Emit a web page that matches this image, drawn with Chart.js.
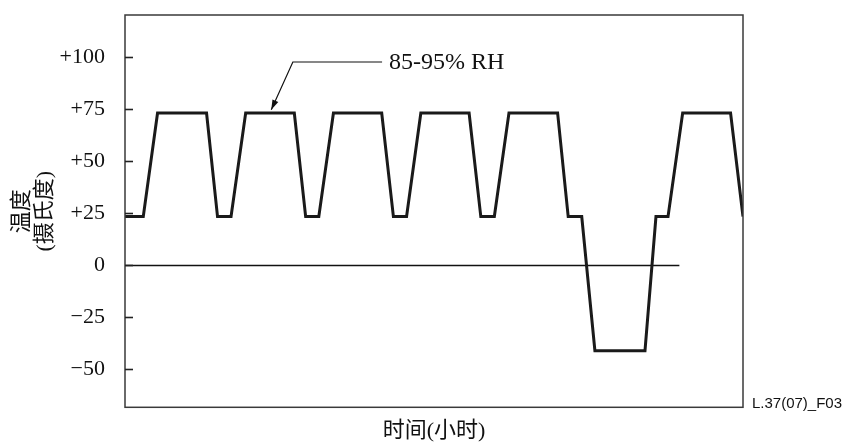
<!DOCTYPE html>
<html>
<head>
<meta charset="utf-8">
<script src="https://cdn.jsdelivr.net/npm/chart.js@4/dist/chart.umd.min.js"></script>
<style>
  html, body { margin: 0; padding: 0; background: #ffffff; }
  canvas { display: block; }
</style>
</head>
<body>
<canvas id="c" width="849" height="445"></canvas>
<script>
// ---- data ----
const hours = [0, 5, 8.9, 22.3, 25.3, 29, 33, 46.3, 49.4, 53, 57, 70.2, 73.4, 77, 80.9, 94.1,
               97.3, 101, 105, 118.3, 121.2, 124.9, 128.5, 142.2, 145.2, 148.5, 152.5, 165.6, 169];
const temps = [23.5, 23.5, 73.3, 73.3, 23.5, 23.5, 73.3, 73.3, 23.5, 23.5, 73.3, 73.3, 23.5, 23.5, 73.3, 73.3,
               23.5, 23.5, 73.3, 73.3, 23.5, 23.5, -41, -41, 23.5, 23.5, 73.3, 73.3, 23.5];
const zeroLineHours = [0, 151.6];
const zeroLineTemps = [0, 0];
const yTickValues = [-50, -25, 0, 25, 50, 75, 100];
const yTickLabels = ['\u221250', '\u221225', '0', '+25', '+50', '+75', '+100'];
const yTitle = ['温度', '(摄氏度)'];
const xTitle = '时间(小时)';
const noteText = '85-95% RH';
const noteArrow = { textX: 72.2, lineEndX: 70.3, elbowX: 45.9, elbowY: 97.8, tipX: 40, tipY: 74.8 };
const figId = 'L.37(07)_F03';

const SERIF = "'Liberation Serif', 'Noto Sans CJK SC', serif";

const decorPlugin = {
  id: 'decor',
  afterDraw(chart) {
    const ctx = chart.ctx;
    const a = chart.chartArea;
    const xs = chart.scales.x, ys = chart.scales.y;
    ctx.save();
    // frame
    ctx.strokeStyle = '#3a3a3a';
    ctx.lineWidth = 1.5;
    ctx.strokeRect(a.left, a.top, a.right - a.left, a.bottom - a.top);
    // inward tick marks
    ctx.strokeStyle = '#222';
    ctx.lineWidth = 1.6;
    yTickValues.forEach(v => {
      const y = Math.round(ys.getPixelForValue(v)) + 0.5;
      ctx.beginPath();
      ctx.moveTo(a.left, y);
      ctx.lineTo(a.left + 8, y);
      ctx.stroke();
    });
    // annotation leader with arrow
    const ex = xs.getPixelForValue(noteArrow.elbowX), ey = ys.getPixelForValue(noteArrow.elbowY);
    const lx = xs.getPixelForValue(noteArrow.lineEndX);
    const tx = xs.getPixelForValue(noteArrow.tipX), ty = ys.getPixelForValue(noteArrow.tipY);
    ctx.strokeStyle = '#111';
    ctx.lineWidth = 1.2;
    ctx.beginPath();
    ctx.moveTo(lx, ey);
    ctx.lineTo(ex, ey);
    ctx.lineTo(tx, ty);
    ctx.stroke();
    const ang = Math.atan2(ty - ey, tx - ex);
    const L = 10, W = 3.2;
    ctx.fillStyle = '#111';
    ctx.beginPath();
    ctx.moveTo(tx, ty);
    ctx.lineTo(tx - L * Math.cos(ang) + W * Math.sin(ang), ty - L * Math.sin(ang) - W * Math.cos(ang));
    ctx.lineTo(tx - L * Math.cos(ang) - W * Math.sin(ang), ty - L * Math.sin(ang) + W * Math.cos(ang));
    ctx.closePath();
    ctx.fill();
    ctx.font = "24px " + SERIF;
    ctx.textBaseline = 'middle';
    ctx.textAlign = 'left';
    ctx.fillStyle = '#111';
    ctx.fillText(noteText, xs.getPixelForValue(noteArrow.textX), ey + 0.5);
    // figure id
    ctx.font = "15px 'Liberation Sans', Arial, sans-serif";
    ctx.textBaseline = 'alphabetic';
    ctx.fillText(figId, a.right + 9, a.bottom + 1);
    ctx.restore();
  }
};

new Chart(document.getElementById('c'), {
  type: 'line',
  data: {
    datasets: [
      {
        data: hours.map((h, i) => ({ x: h, y: temps[i] })),
        borderColor: '#1a1a1a',
        borderWidth: 3,
        pointRadius: 0,
        tension: 0,
        borderJoinStyle: 'miter',
        fill: false
      },
      {
        data: zeroLineHours.map((h, i) => ({ x: h, y: zeroLineTemps[i] })),
        borderColor: '#111',
        borderWidth: 1.6,
        pointRadius: 0,
        tension: 0,
        fill: false
      }
    ]
  },
  options: {
    responsive: false,
    animation: false,
    devicePixelRatio: 1,
    layout: { padding: { top: 15, right: 106, left: 0, bottom: 0 } },
    plugins: { legend: { display: false }, tooltip: { enabled: false } },
    scales: {
      x: {
        type: 'linear',
        min: 0,
        max: 169,
        grid: { display: false, drawTicks: false },
        border: { display: false },
        ticks: { display: false },
        title: {
          display: true,
          text: xTitle,
          color: '#111',
          font: { family: SERIF, size: 22, lineHeight: 1.2 },
          padding: { top: 10, bottom: 1 }
        },
        afterFit(scale) { scale.height = 37.7; scale.paddingLeft = 0; scale.paddingRight = 0; }
      },
      y: {
        type: 'linear',
        min: -68.2,
        max: 120.4,
        grid: { display: false, drawTicks: false },
        border: { display: false },
        afterBuildTicks(scale) { scale.ticks = yTickValues.map(v => ({ value: v })); },
        ticks: {
          padding: 20,
          color: '#111',
          font: { family: SERIF, size: 22 },
          callback: (v) => yTickLabels[yTickValues.indexOf(v)]
        },
        title: {
          display: true,
          text: yTitle,
          color: '#111',
          font: { family: SERIF, size: 22, lineHeight: 1.05 },
          padding: { top: 10.5, bottom: 0 }
        },
        afterFit(scale) { scale.width = 125; scale.paddingTop = 0; scale.paddingBottom = 0; }
      }
    }
  },
  plugins: [decorPlugin]
});
</script>
</body>
</html>
